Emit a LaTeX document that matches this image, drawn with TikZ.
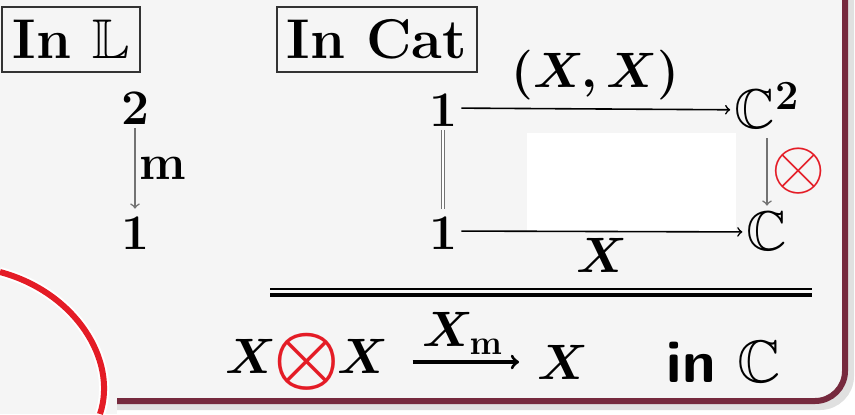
\documentclass[tikz,border=0pt]{standalone}
\usepackage{amsmath,amssymb,bm,graphicx}
\definecolor{framemaroon}{RGB}{118,42,62}
\definecolor{slidegray}{RGB}{245,245,245}
\definecolor{markred}{RGB}{228,28,38}

\begin{document}
\begin{tikzpicture}[x=0.5pt, y=-0.5pt,
  tag/.style={draw=black!80, line width=0.7pt, minimum width=69pt, minimum height=32.5pt, inner sep=0pt, font=\fontsize{28}{34}\selectfont\bfseries},
  obj/.style={inner sep=2pt, text height=18pt, text depth=0pt, font=\fontsize{28}{34}\selectfont},
  lab/.style={font=\fontsize{28}{34}\selectfont\boldmath, text=black},
  arrow/.style={->, line width=0.8pt},
  grayarrow/.style={->, line width=0.8pt, black!55}
]
\useasboundingbox (0,0) rectangle (855,414);
% slide background and frame
\fill[white] (0,0) rectangle (855,414);
\draw[black!12, line width=4pt, rounded corners=15pt] (117,406) -- (850,406) -- (850,-20);
\fill[slidegray, rounded corners=15pt] (-30,-30) rectangle (845,401);
\fill[slidegray] (0,401) rectangle (117,414);
\draw[framemaroon, line width=3pt, rounded corners=15pt] (117,401) -- (845,401) -- (845,-20);

% tags
\node[tag] (inL) at (71,39.5) {In $\mathbb{L}$};
\node[tag, minimum width=100pt] (inCat) at (377,39.5) {In Cat};

% in L
\node[obj] (two) at (135,106) {$\mathbf{2}$};
\node[obj] (one) at (135,231) {$\mathbf{1}$};
\draw[grayarrow] (two) -- node[right, lab, inner sep=2pt] {$\mathbf{m}$} (one);

% in Cat
\fill[white] (527,133) rectangle (736,231);
\node[obj] (tl) at (443,108) {$\mathbf{1}$};
\node[obj] (bl) at (443,231) {$\mathbf{1}$};
\node[obj] (tr) at (767,110) {$\mathbb{C}^{\mathbf{2}}$};
\node[obj] (br) at (767,232) {$\mathbb{C}$};
\draw[arrow] (tl) -- node[above, lab, inner sep=4pt] {$(X,X)$} (tr);
\draw[arrow] (bl) -- node[below, lab, inner sep=3pt] {$X$} (br);
\draw[black!55, line width=0.6pt, double, double distance=1.2pt] (tl) -- (bl);
\draw[grayarrow, shorten <=3pt, shorten >=2pt] (tr) -- node[right, text=markred, font=\fontsize{28}{34}\selectfont, inner sep=2pt] {\scalebox{1.4}{$\otimes$}} (br);

% rule
\draw[line width=0.8pt] (270,289) -- (812,289);
\draw[line width=1.6pt] (270,295) -- (812,295);

% conclusion
\node[lab, font=\fontsize{30}{36}\selectfont\boldmath, inner sep=1pt] (lhs) at (307,362)
  {$X\mkern-1mu{\color{markred}\raisebox{-0.12em}{\scalebox{1.5}{$\otimes$}}}\mkern-1mu X$};
\node[lab, font=\fontsize{30}{36}\selectfont\boldmath, inner sep=1pt] (rhs) at (563,362) {$X$};
\draw[arrow, line width=1.6pt, shorten <=11pt, shorten >=8pt] (lhs) -- node[above, inner sep=3pt, font=\fontsize{24}{28}\selectfont\boldmath] {$X_{\mathbf{m}}$} (rhs);
\node[font=\fontsize{30}{36}\selectfont\sffamily\bfseries] (inC) at (724,362) {in $\mathbb{C}$};

% red mark
\draw[white, line width=5pt] (0,272) .. controls (75,292) and (118,360) .. (100,414);
\draw[markred, line width=3pt] (0,272) .. controls (75,292) and (118,360) .. (100,414);
\end{tikzpicture}
\end{document}
